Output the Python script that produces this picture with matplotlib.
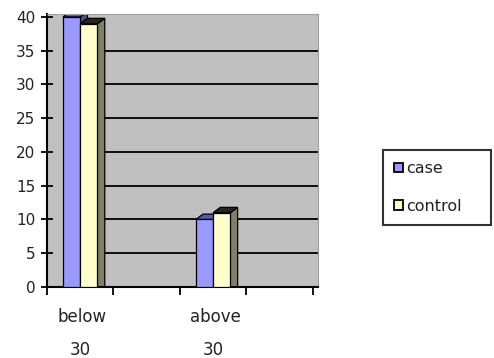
import numpy as np
import matplotlib.pyplot as plt

plt.rcParams['font.family'] = ['DejaVu Sans']

# data
categories = ['below\n30', 'above\n30']
case = [40, 10]
control = [39, 11]
series_names = ['case', 'control']

face_colors = ['#9999ff', '#ffffcc']
side_colors = ['#4d4d80', '#808066']
top_colors = ['#5a5aa0', '#26261e']

centers = np.array([0.5, 2.5])
w = 0.26           # front face width
dx, dy = 0.11, 0.8  # fake 3D depth offset

fig = plt.figure(figsize=(4.94, 3.58), dpi=100)
ax = fig.add_axes([0.0951, 0.1983, 0.5486, 0.7626])
ax.set_facecolor('#c0c0c0')

# gridlines on the back wall
yt = np.arange(0, 41, 5)
ax.hlines(yt[1:-1], 0.24, 4.08, color='black', lw=1.3, zorder=1)

def draw_bar(x0, h, fc, sc, tc, label=None):
    side = [(x0 + w, 0), (x0 + w + dx, 0), (x0 + w + dx, h + dy), (x0 + w, h)]
    top = [(x0, h), (x0 + dx, h + dy), (x0 + w + dx, h + dy), (x0 + w, h)]
    ax.fill(*zip(*side), color=sc, ec='black', lw=0.9, zorder=2)
    ax.fill(*zip(*top), color=tc, ec='black', lw=0.9, zorder=2)
    ax.bar(x0, h, width=w, align='edge', color=fc, ec='black', lw=0.9,
           zorder=3, label=label)

for i, c in enumerate(centers):
    draw_bar(c - w, case[i], face_colors[0], side_colors[0], top_colors[0],
             series_names[0] if i == 0 else None)
    draw_bar(c, control[i], face_colors[1], side_colors[1], top_colors[1],
             series_names[1] if i == 0 else None)

ax.set_xlim(0, 4.08)
ax.set_ylim(0, 40.44)
ax.set_xticks(np.arange(0, 5, 1))
ax.set_xticklabels([])
ax.set_yticks(yt)
ax.tick_params(axis='y', direction='inout', length=9, width=1.3,
               labelsize=11, pad=4, labelcolor='#222222')
ax.tick_params(axis='x', direction='out', length=6, width=1.3)

# two-line category labels, widely spaced
for c, lab in zip(centers, categories):
    top_line, bottom_line = lab.split('\n')
    ax.text(c + 0.03, -0.11, top_line, transform=ax.get_xaxis_transform(),
            ha='center', va='center', fontsize=12, color='#222222')
    ax.text(c, -0.231, bottom_line, transform=ax.get_xaxis_transform(),
            ha='center', va='center', fontsize=12, color='#222222')

for s in ['left', 'bottom']:
    ax.spines[s].set_linewidth(1.5)
for s in ['top', 'right']:
    ax.spines[s].set_color('#a0a0a0')

leg = fig.legend(loc='upper left',
                 bbox_to_anchor=(383 / 494, 1 - 150 / 358, 108 / 494, 0),
                 mode='expand', fontsize=11.5, frameon=True, fancybox=False,
                 edgecolor='black', handlelength=0.55, handleheight=0.55,
                 handletextpad=0.2, borderpad=0.7, labelspacing=1.4,
                 borderaxespad=0)
leg.get_frame().set_linewidth(1.5)
for t in leg.get_texts():
    t.set_color('#222222')
for p in leg.get_patches():
    p.set_linewidth(1.3)

fig.savefig('out.png', dpi=100)
